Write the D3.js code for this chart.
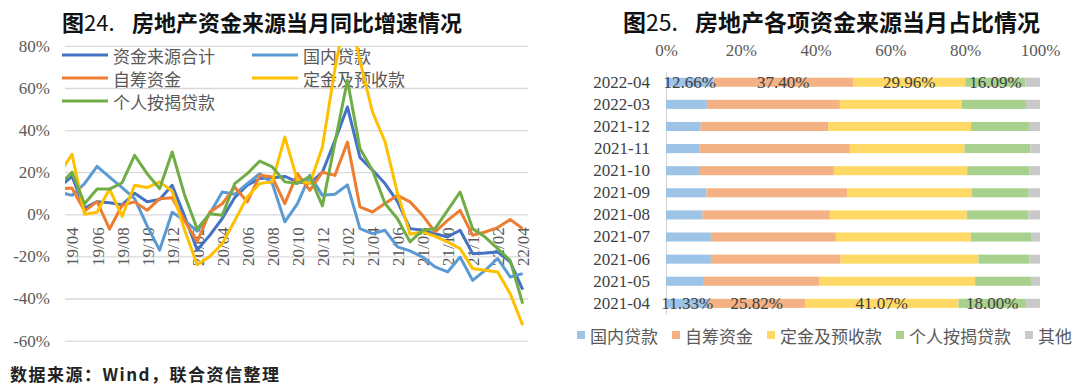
<!DOCTYPE html>
<html lang="zh">
<head>
<meta charset="utf-8">
<title>房地产资金来源</title>
<script src="https://d3js.org/d3.v7.min.js"></script>
<style>
  body { margin: 0; background: #fff; }
  svg { display: block; }
</style>
</head>
<body>
<svg id="chart"></svg>
<script>
var width = 1080;
var height = 388;
var SERIF = "'Liberation Serif', 'DejaVu Serif', serif";
var CJK = "'Noto Sans CJK SC', 'Noto Sans', sans-serif";

// ---- left chart data: yoy growth of each source (%), 19/03 is only partly visible
var months = ["19/03","19/04","19/05","19/06","19/07","19/08","19/09","19/10","19/11","19/12",
  "20/01","20/02","20/03","20/04","20/05","20/06","20/07","20/08","20/09","20/10","20/11","20/12",
  "21/01","21/02","21/03","21/04","21/05","21/06","21/07","21/08","21/09","21/10","21/11","21/12",
  "22/01","22/02","22/03","22/04"];
var monthLabels = ["19/04","19/06","19/08","19/10","19/12","20/02","20/04","20/06","20/08","20/10",
  "20/12","21/02","21/04","21/06","21/08","21/10","21/12","22/02","22/04"];
var yTicks = [-60, -40, -20, 0, 20, 40, 60, 80];

var totalFunds = [13, 18, 3, 6, 5.5, 4.5, 10, 6, 7, 13.8, -1, -17, -10, -2, 8, 13.8, 17, 17.4, 18, 15.4,
  14.6, 20, 35, 51, 27, 21, 14.6, 6, -6.8, -7.6, -9.2, -10.8, -7.6, -18.7, -18.4, -17.9, -22.6, -35.8];
var domesticLoans = [10.5, 9, 14.6, 22.8, 17.7, 12.7, 7.5, -5.5, -17, 1, -3, -8, 0.3, 10.6, 9.5, 14.6, 19.3,
  14.6, -3.6, 5, 18.5, 9, 9.5, 14, -6.8, -9.2, -7.6, -15.5, -17.4, -20.3, -25, -27.4, -20.3, -31.4, -26.6,
  -21, -29.8, -28.2];
var selfRaised = [12, 12.5, 1.5, 6, -7, 4.3, 5.9, 1.9, 7.4, 7.9, -3, -13, 1, 5, 13, 5.9, 18.5, 17.7, 5.1,
  19.3, 11.4, 20, 18.5, 34.3, 3.5, 1.1, 5.1, 9, 5.9, -0.5, -8.4, -2.9, 1.9, -10, -8.4, -6.3, -2.5, -6.8];
var deposits = [19.5, 28.5, 0, 1, 12, -1, 13.8, 12.7, 15.4, 11, -7.6, -24, -20, -14, -3, 8.2, 14.6, 15.4,
  36.7, 16.2, 14.6, 32, 69, 100, 73, 48.6, 34.5, 10, -9.5, -8.4, -10.5, -13.1, -16.3, -25.8, -26.6, -27.4,
  -37.7, -52.7];
var mortgage = [14, 20, 5, 12, 12, 15, 28, 19.3, 12.2, 29.6, 9, -7, 0.3, -0.5, 14.6, 19.3, 25.3, 22.5, 15.4,
  14.6, 18, 4, 34, 63.7, 31.2, 20.9, 5.1, -2.1, -13.1, -7.6, -6.8, 1.9, 10.6, -6.8, -10.8, -16.3, -21.9, -42.4];
var lineNames = ["资金来源合计", "国内贷款", "自筹资金", "定金及预收款", "个人按揭贷款"];

// ---- right chart data: share of each source (%)
var shareMonths = ["2022-04","2022-03","2021-12","2021-11","2021-10","2021-09","2021-08","2021-07",
  "2021-06","2021-05","2021-04"];
var domesticShare = [12.66, 10.93, 9.24, 8.89, 9.07, 10.84, 9.78, 12.0, 12.0, 10.13, 11.33];
var selfShare = [37.40, 35.56, 34.13, 40.27, 35.82, 37.6, 34.04, 33.42, 34.67, 30.93, 25.82];
var depositShare = [29.96, 32.6, 38.2, 30.67, 35.64, 33.24, 36.62, 36.09, 36.89, 41.6, 41.07];
var mortgageShare = [16.09, 17.16, 15.47, 17.6, 16.71, 15.29, 16.44, 16.09, 13.6, 14.93, 18.00];
var otherShare = [3.89, 3.75, 2.96, 2.57, 2.76, 3.03, 3.12, 2.4, 2.84, 2.41, 3.78];
var shareNames = ["国内贷款", "自筹资金", "定金及预收款", "个人按揭贷款", "其他"];
var shareTicks = [0, 20, 40, 60, 80, 100];
var labeledRows = ["2022-04", "2021-04"];

var lineColors = ["#4472c4", "#5b9bd5", "#ed7d31", "#ffc000", "#70ad47"];
var barColors = ["#9dc3e6", "#f4b183", "#ffd966", "#a9d18e", "#c9c9c9"];

var svg = d3.select("#chart")
  .attr("width", width)
  .attr("height", height);

// d3.axis resets font attrs on its group, so set them after the call
function axisFont(g, fill) {
  g.attr("font-family", SERIF).attr("font-size", 17);
  g.selectAll("text").attr("fill", fill);
}

// titles
function addTitle(x1, x2, num, txt, size) {
  svg.append("text").attr("x", x1).attr("y", 21).attr("dominant-baseline", "central")
    .attr("font-family", CJK).attr("font-size", size).attr("font-weight", "bold").attr("fill", "#111")
    .text("图").append("tspan").attr("font-weight", "normal").text(num);
  svg.append("text").attr("x", x2).attr("y", 21).attr("dominant-baseline", "central")
    .attr("font-family", CJK).attr("font-size", size).attr("font-weight", "bold").attr("fill", "#111")
    .text(txt);
}
addTitle(62, 132, "24.", "房地产资金来源当月同比增速情况", 22);
addTitle(623, 695, "25.", "房地产各项资金来源当月占比情况", 23);

// ================= left: line chart =================
var plot = { left: 65, right: 528, top: 46, bottom: 341 };
var x = d3.scalePoint().domain(months).range([59.5, 522.7]);
var y = d3.scaleLinear().domain([-60, 80]).range([340.6, 45.9]);

svg.append("g")
  .attr("transform", "translate(" + plot.left + ",0)")
  .call(d3.axisLeft(y).tickValues(yTicks).tickSize(-(plot.right - plot.left)).tickPadding(15)
    .tickFormat(function(d) { return d + "%"; }))
  .call(axisFont, "#595959")
  .call(function(g) { g.select(".domain").remove(); })
  .call(function(g) { g.selectAll("line").attr("stroke", "#d9d9d9").attr("stroke-width", 1.3); });

// month labels, rotated, below the zero line
svg.append("g")
  .attr("transform", "translate(0," + y(0) + ")")
  .call(d3.axisBottom(x).tickValues(monthLabels).tickSize(0))
  .call(axisFont, "#595959")
  .call(function(g) { g.select(".domain").remove(); })
  .call(function(g) {
    g.selectAll("text")
      .attr("transform", "rotate(-90)")
      .attr("text-anchor", "end")
      .attr("x", -13).attr("y", 0).attr("dy", "0.35em");
  });

// legend (two columns)
var legend = svg.append("g").attr("font-family", CJK).attr("font-size", 17).attr("fill", "#595959");
lineNames.forEach(function(name, i) {
  var lx = i % 2 === 0 ? 62 : 252;
  var ly = 55 + Math.floor(i / 2) * 23;
  legend.append("line").attr("x1", lx).attr("x2", lx + 46).attr("y1", ly).attr("y2", ly)
    .attr("stroke", lineColors[i]).attr("stroke-width", 3.2);
  legend.append("text").attr("x", lx + 51).attr("y", ly).attr("dominant-baseline", "central").text(name);
});

svg.append("clipPath").attr("id", "plotClip")
  .append("rect").attr("x", plot.left).attr("y", plot.top)
  .attr("width", plot.right - plot.left).attr("height", plot.bottom - plot.top);

var seriesList = [totalFunds, domesticLoans, selfRaised, deposits, mortgage];
var line = d3.line()
  .x(function(d, i) { return x(months[i]); })
  .y(function(d) { return y(d); });

svg.append("g").attr("clip-path", "url(#plotClip)")
  .selectAll("path")
  .data(seriesList)
  .enter()
  .append("path")
  .attr("d", line)
  .attr("fill", "none")
  .attr("stroke", function(d, i) { return lineColors[i]; })
  .attr("stroke-width", 3)
  .attr("stroke-linejoin", "round");

// ================= right: stacked bars =================
var rows = shareMonths.map(function(m, i) {
  return { month: m, "国内贷款": domesticShare[i], "自筹资金": selfShare[i], "定金及预收款": depositShare[i],
    "个人按揭贷款": mortgageShare[i], "其他": otherShare[i] };
});
var stacked = d3.stack().keys(shareNames)(rows);

var xs = d3.scaleLinear().domain([0, 100]).range([666, 1040]);
var ys = d3.scaleBand().domain(shareMonths).range([71.2, 314.4]).paddingInner(0.59).paddingOuter(0.295);

svg.append("g")
  .attr("transform", "translate(0,50.5)")
  .call(d3.axisTop(xs).tickValues(shareTicks).tickSize(0).tickPadding(0)
    .tickFormat(function(d) { return d + "%"; }))
  .call(axisFont, "#595959")
  .call(function(g) { g.select(".domain").remove(); })
  .call(function(g) { g.selectAll("text").attr("dy", "0.35em"); });

svg.append("g")
  .attr("transform", "translate(666,0)")
  .call(d3.axisLeft(ys).tickSize(0).tickPadding(16))
  .call(axisFont, "#404040")
  .call(function(g) { g.select(".domain").attr("stroke", "#d9d9d9").attr("stroke-width", 1.3); });

svg.append("g")
  .selectAll("g")
  .data(stacked)
  .enter()
  .append("g")
  .attr("fill", function(d, i) { return barColors[i]; })
  .selectAll("rect")
  .data(function(d) { return d; })
  .enter()
  .append("rect")
  .attr("x", function(d) { return xs(d[0]); })
  .attr("y", function(d) { return ys(d.data.month); })
  .attr("width", function(d) { return xs(d[1]) - xs(d[0]); })
  .attr("height", ys.bandwidth());

// value labels on first and last rows (not for 其他)
var labelG = svg.append("g").attr("font-family", SERIF).attr("font-size", 17).attr("fill", "#404040");
stacked.slice(0, 4).forEach(function(layer) {
  layer.forEach(function(d) {
    if (labeledRows.indexOf(d.data.month) < 0) return;
    labelG.append("text")
      .attr("x", xs((d[0] + d[1]) / 2))
      .attr("y", ys(d.data.month) + ys.bandwidth() / 2)
      .attr("dy", "0.35em")
      .attr("text-anchor", "middle")
      .text(d3.format(".2f")(d[1] - d[0]) + "%");
  });
});

// legend, laid out left to right
var barLegend = svg.append("g").attr("font-family", CJK).attr("font-size", 17).attr("fill", "#595959");
var lx = 577;
shareNames.forEach(function(name, i) {
  barLegend.append("rect").attr("x", lx).attr("y", 331).attr("width", 8).attr("height", 8)
    .attr("fill", barColors[i]);
  var t = barLegend.append("text").attr("x", lx + 13).attr("y", 335)
    .attr("dominant-baseline", "central").text(name);
  lx += 13 + t.node().getComputedTextLength() + 14;
});

// source note
svg.append("text")
  .attr("x", 10).attr("y", 373).attr("dominant-baseline", "central")
  .attr("font-family", CJK).attr("font-size", 17).attr("font-weight", "bold")
  .attr("letter-spacing", 1.5).attr("fill", "#222")
  .text("数据来源：Wind，联合资信整理");
</script>
</body>
</html>
